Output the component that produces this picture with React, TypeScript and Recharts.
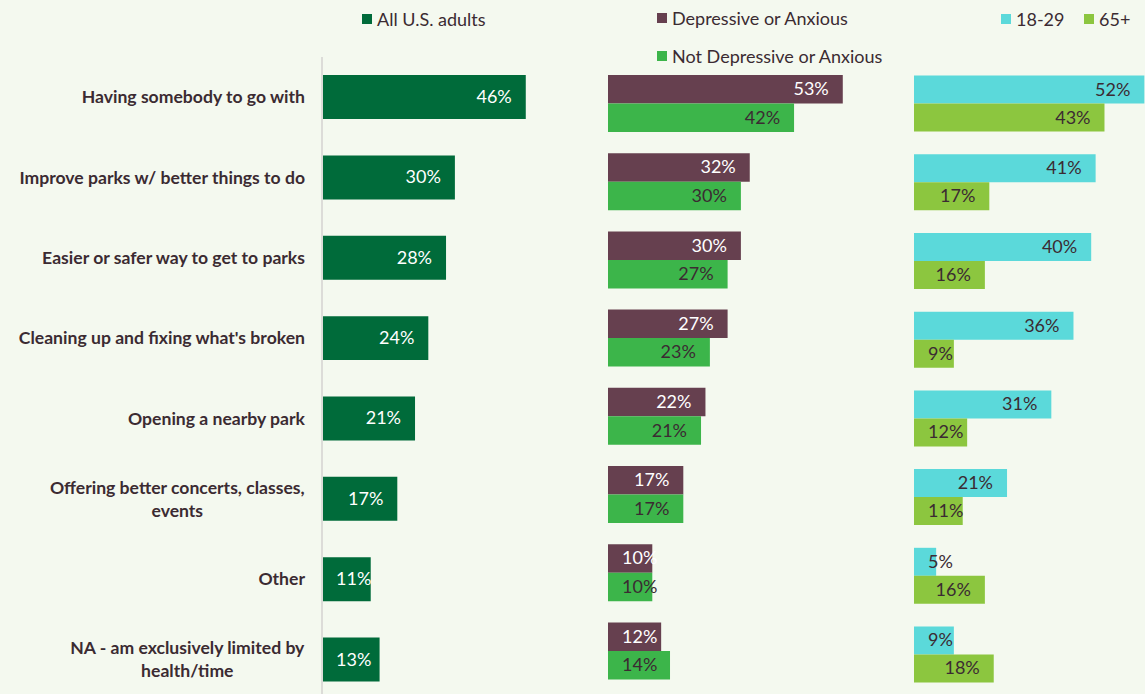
import { Bar, BarChart, LabelList, XAxis, YAxis } from 'recharts'

const categories = [
  'Having somebody to go with',
  'Improve parks w/ better things to do',
  'Easier or safer way to get to parks',
  "Cleaning up and fixing what's broken",
  'Opening a nearby park',
  'Offering better concerts, classes, events',
  'Other',
  'NA - am exclusively limited by health/time',
]

const allAdults = [46, 30, 28, 24, 21, 17, 11, 13]
const depressive = [53, 32, 30, 27, 22, 17, 10, 12]
const notDepressive = [42, 30, 27, 23, 21, 17, 10, 14]
const age18to29 = [52, 41, 40, 36, 31, 21, 5, 9]
const age65plus = [43, 17, 16, 9, 12, 11, 16, 18]

const data = categories.map((name, i) => ({
  name,
  all: allAdults[i],
  dep: depressive[i],
  notDep: notDepressive[i],
  young: age18to29[i],
  old: age65plus[i],
}))

const BG = '#f4f9ef'
const TEXT = '#3b2b32'
const FONT = 'Lato, "Open Sans", sans-serif'
const CAT_SIZE = 17.6
const VAL_SIZE = 18

const ctx = document.createElement('canvas').getContext('2d')
function measure(text: string, font: string) {
  if (!ctx) return text.length * 10
  ctx.font = font
  return ctx.measureText(text).width
}

function wrapLabel(text: string, maxChars: number) {
  const words = text.split(' ')
  const lines: string[] = []
  let cur = ''
  for (const w of words) {
    const next = cur ? cur + ' ' + w : w
    if (next.length > maxChars && cur) {
      lines.push(cur)
      cur = w
    } else {
      cur = next
    }
  }
  if (cur) lines.push(cur)
  return lines
}

function CategoryTick(props: any) {
  const { x, y, payload } = props
  const lines = wrapLabel(payload.value, 36)
  const lh = 23
  const y0 = y - ((lines.length - 1) * lh) / 2
  // wrapped labels: lines centred on each other, block right-aligned
  const font = `700 ${CAT_SIZE}px ${FONT}`
  const maxW = Math.max(...lines.map((l) => measure(l, font)))
  const multi = lines.length > 1
  const tx = multi ? x - maxW / 2 : x
  return (
    <text
      x={tx}
      y={y0}
      textAnchor={multi ? 'middle' : 'end'}
      fill={TEXT}
      fontSize={CAT_SIZE}
      fontWeight={700}
      fontFamily={FONT}
    >
      {lines.map((l, i) => (
        <tspan key={i} x={tx} dy={i === 0 ? 6 : lh}>
          {l}
        </tspan>
      ))}
    </text>
  )
}

// value label sits near the bar end, but never starts before barStart + 14
const valueLabel = (color: string) => (props: any) => {
  const { x, y, width, height, value } = props
  const txt = `${value}%`
  const tw = measure(txt, `${VAL_SIZE}px ${FONT}`)
  const xe = Math.max(x + width - 14, x + 14 + tw)
  return (
    <text x={xe} y={y + height / 2 + 6} textAnchor="end" fill={color} fontSize={VAL_SIZE} fontFamily={FONT}>
      {txt}
    </text>
  )
}

const legendItems = [
  { label: 'All U.S. adults', color: '#006b3a', left: 362, top: 19 },
  { label: 'Depressive or Anxious', color: '#66404f', left: 657, top: 18 },
  { label: 'Not Depressive or Anxious', color: '#3cb54a', left: 657, top: 56 },
  { label: '18-29', color: '#5bd9da', left: 1001, top: 19 },
  { label: '65+', color: '#8cc63f', left: 1084, top: 19 },
]

function Legends() {
  return (
    <>
      {legendItems.map((it) => (
        <div
          key={it.label}
          style={{
            position: 'absolute',
            left: it.left,
            top: it.top - 11,
            height: 22,
            display: 'flex',
            alignItems: 'center',
            fontFamily: FONT,
            fontSize: VAL_SIZE,
            color: TEXT,
            whiteSpace: 'nowrap',
          }}
        >
          <span style={{ width: 10, height: 10, background: it.color, marginRight: 5, display: 'inline-block' }} />
          {it.label}
        </div>
      ))}
    </>
  )
}

const H = 720
const PX_PER_PCT = 4.43
const DOMAIN_MAX = 60
const PLOT_W = DOMAIN_MAX * PX_PER_PCT

export default function App() {
  return (
    <div
      style={{
        position: 'fixed',
        left: 0,
        top: 0,
        width: 1145,
        height: 694,
        overflow: 'hidden',
        background: BG,
      }}
    >
      <Legends />
      {/* All adults */}
      <div style={{ position: 'absolute', left: 0, top: 0 }}>
        <BarChart
          width={322 + PLOT_W}
          height={H}
          data={data}
          layout="vertical"
          margin={{ top: 57, bottom: H - 57 - 643, left: 0, right: 0 }}
        >
          <XAxis type="number" domain={[0, DOMAIN_MAX]} hide />
          <YAxis
            type="category"
            dataKey="name"
            width={322}
            tickSize={0}
            tickMargin={17}
            axisLine={{ stroke: '#dcdcd8', strokeWidth: 2 }}
            tickLine={false}
            tick={<CategoryTick />}
            interval={0}
          />
          <Bar dataKey="all" fill="#006b3a" barSize={44} isAnimationActive={false}>
            <LabelList dataKey="all" content={valueLabel('#ffffff')} />
          </Bar>
        </BarChart>
      </div>
      {/* Depressive / not */}
      <div style={{ position: 'absolute', left: 608, top: 0 }}>
        <BarChart
          width={PLOT_W}
          height={H}
          data={data}
          layout="vertical"
          margin={{ top: 64, bottom: H - 64 - 625.6, left: 0, right: 0 }}
          barGap={0}
        >
          <XAxis type="number" domain={[0, DOMAIN_MAX]} hide />
          <YAxis type="category" dataKey="name" hide />
          <Bar dataKey="dep" fill="#66404f" barSize={28.5} isAnimationActive={false}>
            <LabelList dataKey="dep" content={valueLabel('#ffffff')} />
          </Bar>
          <Bar dataKey="notDep" fill="#3cb54a" barSize={28.5} isAnimationActive={false}>
            <LabelList dataKey="notDep" content={valueLabel(TEXT)} />
          </Bar>
        </BarChart>
      </div>
      {/* Age */}
      <div style={{ position: 'absolute', left: 914, top: 0 }}>
        <BarChart
          width={PLOT_W}
          height={H}
          data={data}
          layout="vertical"
          margin={{ top: 64.6, bottom: H - 64.6 - 629.6, left: 0, right: 0 }}
          barGap={0}
        >
          <XAxis type="number" domain={[0, DOMAIN_MAX]} hide />
          <YAxis type="category" dataKey="name" hide />
          <Bar dataKey="young" fill="#5bd9da" barSize={28} isAnimationActive={false}>
            <LabelList dataKey="young" content={valueLabel(TEXT)} />
          </Bar>
          <Bar dataKey="old" fill="#8cc63f" barSize={28} isAnimationActive={false}>
            <LabelList dataKey="old" content={valueLabel(TEXT)} />
          </Bar>
        </BarChart>
      </div>
    </div>
  )
}
